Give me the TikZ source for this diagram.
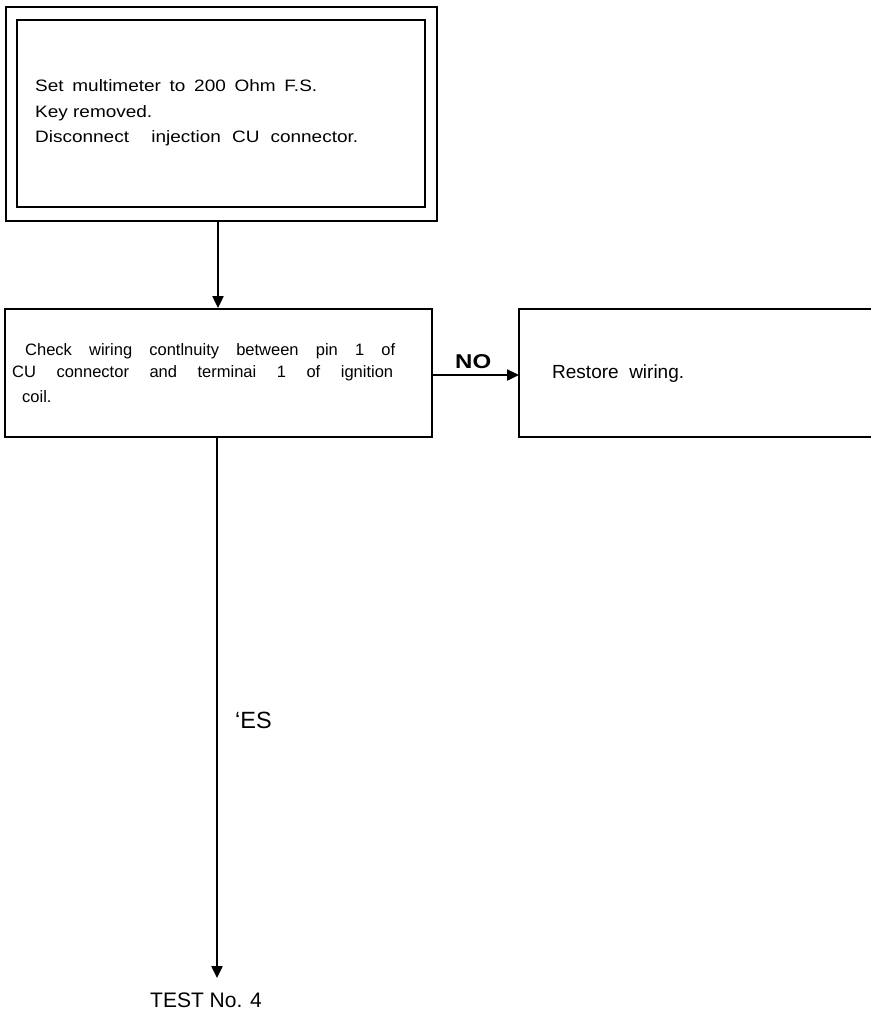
\documentclass[tikz,border=0pt]{standalone}
\usepackage{fontspec}
\setmainfont{Liberation Sans}
\newfontfamily\widefont[FakeStretch=1.15]{Liberation Sans}
\newfontfamily\nofont[FakeStretch=1.2]{Liberation Sans}
\usetikzlibrary{arrows.meta}
\begin{document}
\begin{tikzpicture}[x=1pt,y=-1pt,
  boxline/.style={draw=black,line width=2pt,inner sep=0pt},
  conn/.style={line width=2.4pt,-{Triangle[length=12pt,width=11pt]}},
  txt/.style={inner sep=0pt,anchor=base west},
  toptxt/.style={txt,font=\widefont\fontsize{16.5}{20}\selectfont},
  chktxt/.style={txt,font=\fontsize{16.5}{20}\selectfont}]
\useasboundingbox[fill=white] (0,0) rectangle (871,1010);
% top double box
\node[boxline,line width=2.6pt,minimum width=431pt,minimum height=214pt] (top) at (221.5,114) {};
\node[boxline,minimum width=408pt,minimum height=187pt] (topin) at (221,113.5) {};
\node[toptxt] (t1) at (35,91) {\makebox[282pt][s]{Set multimeter to 200 Ohm F.S.}};
\node[toptxt] (t2) at (35,117) {Key removed.};
\node[toptxt] (t3) at (35,142) {\makebox[323pt][s]{Disconnect\ \ injection CU connector.}};
% check box
\node[boxline,minimum width=427pt,minimum height=128pt] (chk) at (218.5,373) {};
\node[chktxt] (c1) at (25,355) {\makebox[370pt][s]{Check wiring contlnuity between pin 1 of}};
\node[chktxt] (c2) at (12,377) {\makebox[381pt][s]{CU connector and terminai 1 of ignition}};
\node[chktxt] (c3) at (22,402) {coil.};
% restore box (right side cut off)
\coordinate (rtl) at (519,309);
\coordinate (rbl) at (519,437);
\draw[line width=2pt] (871,309) -- (rtl) -- (rbl) -- (871,437);
\node[txt,font=\fontsize{19}{22}\selectfont] (r1) at (552,378) {Restore\ \ wiring.};
% connectors
\coordinate (a1) at (218,221);
\draw[conn] (a1) -- (218,308);
\draw[conn] (chk.east |- 0,375) coordinate (n0) -- (rtl |- n0);
\node[txt,font=\nofont\bfseries\fontsize{20}{24}\selectfont] (no) at (455,368) {NO};
\coordinate (y0) at (217,437);
\coordinate (y1) at (217,978);
\draw[conn] (y0) -- (y1);
\node[txt,font=\fontsize{23.5}{28}\selectfont] (yes) at (235,728) {‘ES};
\node[txt,font=\fontsize{21}{24}\selectfont] (test) at (150,1007) {TEST No. 4};
\end{tikzpicture}
\end{document}
